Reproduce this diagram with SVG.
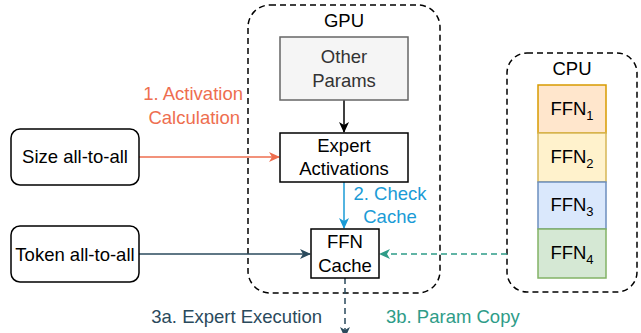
<svg xmlns="http://www.w3.org/2000/svg" width="641" height="333" viewBox="0 0 641 333">
<style>
text{font-family:"Liberation Sans",Arial,sans-serif;font-size:18.5px;fill:#000}
.c{text-anchor:middle}
.r{text-anchor:end}
.box{fill:#fff;stroke:#000;stroke-width:1.5}
.cont{fill:none;stroke:#000;stroke-width:1.5;stroke-dasharray:6 4}
.sub{font-size:13px}
</style>
<defs>
<marker id="aO" markerWidth="12" markerHeight="10" refX="10" refY="5" orient="auto" markerUnits="userSpaceOnUse"><path d="M0,0 L11,5 L0,10 L3,5 z" fill="#EE6E4F"/></marker>
<marker id="aB" markerWidth="12" markerHeight="10" refX="10" refY="5" orient="auto" markerUnits="userSpaceOnUse"><path d="M0,0 L11,5 L0,10 L3,5 z" fill="#1A9BD6"/></marker>
<marker id="aK" markerWidth="12" markerHeight="10" refX="10" refY="5" orient="auto" markerUnits="userSpaceOnUse"><path d="M0,0 L11,5 L0,10 L3,5 z" fill="#000"/></marker>
<marker id="aS" markerWidth="12" markerHeight="10" refX="10" refY="5" orient="auto" markerUnits="userSpaceOnUse"><path d="M0,0 L11,5 L0,10 L3,5 z" fill="#2A4A5C"/></marker>
<marker id="aT" markerWidth="12" markerHeight="10" refX="10" refY="5" orient="auto" markerUnits="userSpaceOnUse"><path d="M0,0 L11,5 L0,10 L3,5 z" fill="#2E9C88"/></marker>
</defs>

<g id="gpu">
<rect class="cont" x="248" y="5" width="192" height="288" rx="22"/>
<text class="c" x="344" y="27">GPU</text>
</g>
<g id="cpu">
<rect class="cont" x="507" y="53" width="130" height="239" rx="20"/>
<text class="c" x="572" y="75">CPU</text>
</g>

<g id="connectors">
<line x1="344" y1="100" x2="344" y2="132" stroke="#000" stroke-width="1.5" marker-end="url(#aK)"/>
<line x1="139" y1="157" x2="279" y2="157" stroke="#EE6E4F" stroke-width="1.5" marker-end="url(#aO)"/>
<line x1="344" y1="182" x2="344" y2="228" stroke="#1A9BD6" stroke-width="1.5" marker-end="url(#aB)"/>
<line x1="139" y1="254" x2="310" y2="254" stroke="#2A4A5C" stroke-width="1.5" marker-end="url(#aS)"/>
<line x1="507" y1="254" x2="380" y2="254" stroke="#2E9C88" stroke-width="1.5" stroke-dasharray="6 4" marker-end="url(#aT)"/>
<line x1="345" y1="278" x2="345" y2="337" stroke="#2A4A5C" stroke-width="1.5" stroke-dasharray="6 4" marker-end="url(#aS)"/>
<text class="r" x="243" y="100" fill="#EE6E4F" style="fill:#EE6E4F">1. Activation</text>
<text class="r" x="240" y="124" style="fill:#EE6E4F">Calculation</text>
<text class="c" x="390" y="200" style="fill:#1A9BD6">2. Check</text>
<text class="c" x="390" y="223" style="fill:#1A9BD6">Cache</text>
<text class="r" x="322" y="323" style="fill:#2A4A5C">3a. Expert Execution</text>
<text x="386" y="323" style="fill:#2E9C88">3b. Param Copy</text>
</g>

<g id="other-params">
<rect x="280" y="37" width="128" height="63" fill="#f5f5f5" stroke="#666" stroke-width="1.5"/>
<text class="c" x="344" y="63" style="fill:#333">Other</text>
<text class="c" x="344" y="87" style="fill:#333">Params</text>
</g>
<g id="expert-activations">
<rect class="box" x="280" y="133" width="128" height="49"/>
<text class="c" x="344" y="152">Expert</text>
<text class="c" x="344" y="175">Activations</text>
</g>
<g id="ffn-cache">
<rect class="box" x="311" y="229" width="68" height="49"/>
<text class="c" x="345" y="248">FFN</text>
<text class="c" x="345" y="272">Cache</text>
</g>
<g id="size-a2a">
<rect class="box" x="11" y="129" width="128" height="56" rx="9"/>
<text class="c" x="75" y="163">Size all-to-all</text>
</g>
<g id="token-a2a">
<rect class="box" x="11" y="226" width="128" height="56" rx="9"/>
<text class="c" x="75" y="261">Token all-to-all</text>
</g>

<g id="ffn1">
<rect x="538" y="85" width="68" height="48" fill="#ffe6cc" stroke="#d79b00" stroke-width="1.5"/>
<text class="c" x="572" y="115">FFN<tspan class="sub" dy="5">1</tspan></text>
</g>
<g id="ffn2">
<rect x="538" y="133" width="68" height="49" fill="#fff2cc" stroke="#d6b656" stroke-width="1.5"/>
<text class="c" x="572" y="163">FFN<tspan class="sub" dy="5">2</tspan></text>
</g>
<g id="ffn3">
<rect x="538" y="182" width="68" height="47" fill="#dae8fc" stroke="#6c8ebf" stroke-width="1.5"/>
<text class="c" x="572" y="211">FFN<tspan class="sub" dy="5">3</tspan></text>
</g>
<g id="ffn4">
<rect x="538" y="229" width="68" height="49" fill="#d5e8d4" stroke="#82b366" stroke-width="1.5"/>
<text class="c" x="572" y="259">FFN<tspan class="sub" dy="5">4</tspan></text>
</g>
</svg>
